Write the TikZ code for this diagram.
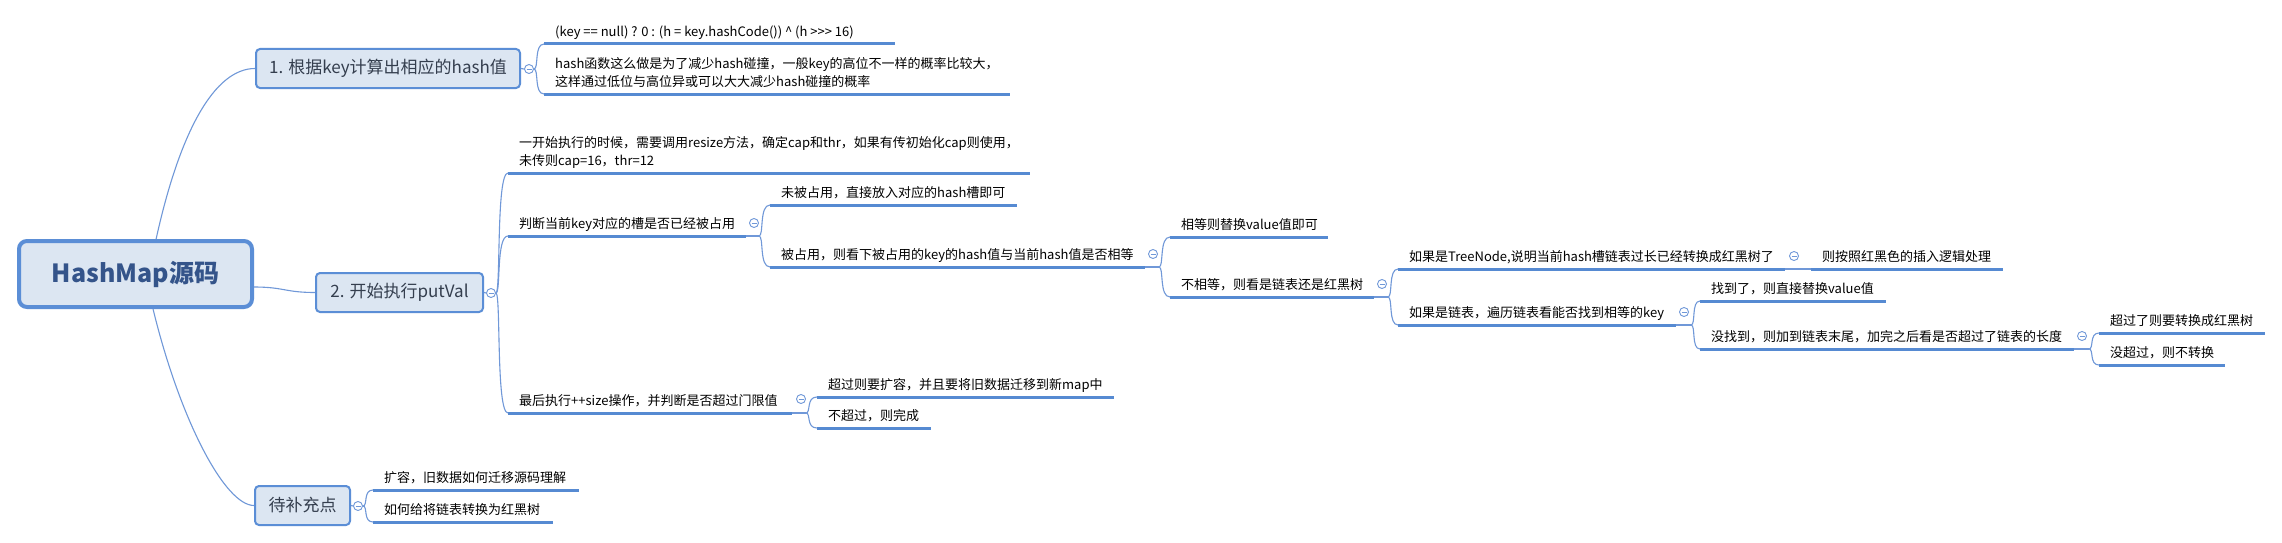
\documentclass[tikz,border=0pt]{standalone}
\usepackage{fontspec}
\setmainfont{Noto Sans CJK SC}[Ligatures=TeXOff]
\usetikzlibrary{calc}
\definecolor{bxborder}{RGB}{91,142,214}
\definecolor{bxfill}{RGB}{220,230,242}
\definecolor{ulcol}{RGB}{86,138,210}
\definecolor{lncol}{RGB}{112,152,216}
\definecolor{roottxt}{RGB}{52,84,138}
\definecolor{bxtxt}{RGB}{52,62,78}
\newcommand\mmtopic[5]{%
  \coordinate (#1s) at (#2,#4);
  \coordinate (#1e) at (#3,#4);
  \node[tt, anchor=south west] (#1) at (#1s) {#5};
  \draw[uline] (#1s) -- (#1e);
}
\begin{document}
\begin{tikzpicture}[x=1pt,y=-1pt,
  tt/.style={font=\fontsize{13}{18}\selectfont, text=black, align=left, inner xsep=11pt, inner ysep=4.5pt, text depth=3pt},
  uline/.style={draw=ulcol, line width=3pt},
  conn/.style={draw=lncol, line width=1.1pt},
  brk/.style={to path={.. controls ($(\tikztostart)+(5,0)$) and (\tikztostart |- \tikztotarget) .. (\tikztotarget)}},
  rootbox/.style={draw=bxborder, line width=4pt, fill=bxfill, rounded corners=8pt, minimum width=233pt, minimum height=66pt, font=\fontsize{25}{30}\selectfont\bfseries, text=roottxt, inner sep=0pt},
  mainbox/.style={draw=bxborder, line width=2pt, fill=bxfill, rounded corners=4pt, minimum height=39pt, font=\fontsize{17}{20}\selectfont, text=bxtxt, inner sep=0pt},
  collapse/.style={circle, draw=lncol, fill=white, line width=0.9pt, minimum size=9pt, inner sep=0pt,
    path picture={\draw[lncol, line width=0.9pt] ($(path picture bounding box.center)+(-2.5,0)$) -- ($(path picture bounding box.center)+(2.5,0)$);}}
]
\useasboundingbox[fill=white] (0,0) rectangle (2282,543);

% main boxes
\node[rootbox] (root) at (135.5,274) {HashMap源码};
\node[mainbox, minimum width=264pt] (n1) at (388,68.5) {1. 根据key计算出相应的hash值};
\node[mainbox, minimum width=167pt] (n2) at (399.5,292.5) {2. 开始执行putVal};
\node[mainbox, minimum width=95pt] (n3) at (302.5,505.5) {待补充点};

\coordinate (rtop) at ($(root.north west)!0.587!(root.north east)$);
\coordinate (rbot) at ($(root.south west)!0.574!(root.south east)$);
\coordinate (rrgt) at ($(root.east)+(0,13)$);
\draw[conn] (rtop) .. controls +(24,-109) and +(-40,0) .. (n1.west);
\draw[conn] (rrgt) .. controls +(30,0) and +(-30,0) .. (n2.west);
\draw[conn] (rbot) .. controls +(27,111) and +(-29,0) .. (n3.west);

% topics
\mmtopic{A1}{544}{895}{44}{(key == null) ? 0 : (h = key.hashCode()) \textasciicircum{} (h >>> 16)}
\mmtopic{A2}{544}{1010}{94}{hash函数这么做是为了减少hash碰撞，一般key的高位不一样的概率比较大，\\这样通过低位与高位异或可以大大减少hash碰撞的概率}
\mmtopic{B1}{508}{1030}{173}{一开始执行的时候，需要调用resize方法，确定cap和thr，如果有传初始化cap则使用，\\未传则cap=16，thr=12}
\mmtopic{B2}{508}{746}{236}{判断当前key对应的槽是否已经被占用}
\mmtopic{B3}{508}{792}{413}{最后执行++size操作，并判断是否超过门限值}
\mmtopic{C1}{770}{1017}{205}{未被占用，直接放入对应的hash槽即可}
\mmtopic{C2}{770}{1145}{267}{被占用，则看下被占用的key的hash值与当前hash值是否相等}
\mmtopic{D1}{1170}{1328}{237}{相等则替换value值即可}
\mmtopic{D2}{1170}{1374}{297}{不相等，则看是链表还是红黑树}
\mmtopic{E1}{1398}{1785}{269}{如果是TreeNode,说明当前hash槽链表过长已经转换成红黑树了}
\mmtopic{E2}{1398}{1676}{325}{如果是链表，遍历链表看能否找到相等的key}
\mmtopic{F1}{1811}{2003}{269}{则按照红黑色的插入逻辑处理}
\mmtopic{G1}{1700}{1886}{301}{找到了，则直接替换value值}
\mmtopic{G2}{1700}{2074}{349}{没找到，则加到链表末尾，加完之后看是否超过了链表的长度}
\mmtopic{H1}{2099}{2265}{333}{超过了则要转换成红黑树}
\mmtopic{H2}{2099}{2225}{365}{没超过，则不转换}
\mmtopic{I1}{817}{1114}{397}{超过则要扩容，并且要将旧数据迁移到新map中}
\mmtopic{I2}{817}{931}{428}{不超过，则完成}
\mmtopic{K1}{373}{579}{490}{扩容，旧数据如何迁移源码理解}
\mmtopic{K2}{373}{553}{522}{如何给将链表转换为红黑树}

% junctions
\coordinate (jB2) at ($(B2e)+(13,0)$);
\coordinate (jB3) at ($(B3e)+(14,0)$);
\coordinate (jC2) at ($(C2e)+(14,0)$);
\coordinate (jD2) at ($(D2e)+(14,0)$);
\coordinate (jE2) at ($(E2e)+(15,0)$);
\coordinate (jG2) at ($(G2e)+(15,0)$);

% collapse markers
\node[collapse] (c1) at (529,69) {};
\node[collapse] (c2) at (491,293) {};
\node[collapse] (c3) at (358,506) {};
\node[collapse] (cB2) at (754,223) {};
\node[collapse] (cB3) at (801,399) {};
\node[collapse] (cC2) at (1153,254) {};
\node[collapse] (cD2) at (1382,284) {};
\node[collapse] (cE1) at (1794,256) {};
\node[collapse] (cE2) at (1684,312) {};
\node[collapse] (cG2) at (2082,336) {};

% connectors
\draw[conn] (n1.east) -- (c1.west);
\draw[conn] (c1.east) to[brk] (A1s);
\draw[conn] (c1.east) to[brk] (A2s);
\draw[conn] (n2.east) -- (c2.west);
\draw[conn] (c2.east) to[brk] (B1s);
\draw[conn] (c2.east) to[brk] (B2s);
\draw[conn] (c2.east) to[brk] (B3s);
\draw[conn] (n3.east) -- (c3.west);
\draw[conn] (c3.east) to[brk] (K1s);
\draw[conn] (c3.east) to[brk] (K2s);
\draw[conn] (B2e) -- (jB2);
\draw[conn] (jB2) to[brk] (C1s);
\draw[conn] (jB2) to[brk] (C2s);
\draw[conn] (C2e) -- (jC2);
\draw[conn] (jC2) to[brk] (D1s);
\draw[conn] (jC2) to[brk] (D2s);
\draw[conn] (D2e) -- (jD2);
\draw[conn] (jD2) to[brk] (E1s);
\draw[conn] (jD2) to[brk] (E2s);
\draw[conn] (E1e) -- (F1s);
\draw[conn] (E2e) -- (jE2);
\draw[conn] (jE2) to[brk] (G1s);
\draw[conn] (jE2) to[brk] (G2s);
\draw[conn] (G2e) -- (jG2);
\draw[conn] (jG2) to[brk] (H1s);
\draw[conn] (jG2) to[brk] (H2s);
\draw[conn] (B3e) -- (jB3);
\draw[conn] (jB3) to[brk] (I1s);
\draw[conn] (jB3) to[brk] (I2s);
\end{tikzpicture}
\end{document}
